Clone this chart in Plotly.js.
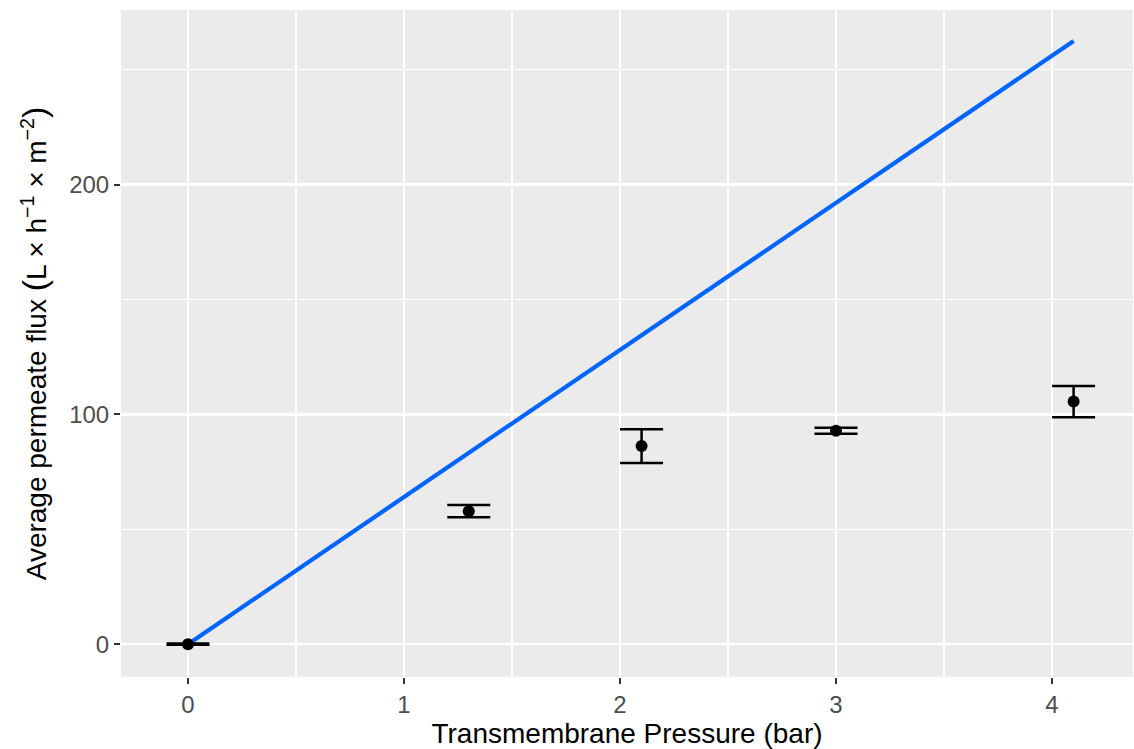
<!DOCTYPE html>
<html>
<head>
<meta charset="utf-8">
<script src="https://cdn.plot.ly/plotly-3.0.1.min.js"></script>
<style>html,body{margin:0;padding:0;background:#fff;}#chart{width:1134px;height:749px;}</style>
</head>
<body>
<div id="chart"></div>
<script>
// Data
const pressure = [0, 1.3, 2.1, 3.0, 4.1];
const flux = [0, 57.8, 86.2, 92.9, 105.6];
const fluxErrUp = [0.3, 2.8, 7.3, 1.3, 6.7];
const fluxErrDown = [0.3, 2.6, 7.4, 1.3, 6.9];
const fitX = [0, 4.1];
const fitY = [0, 262.5];
const xTicks = [0, 1, 2, 3, 4];
const yTicks = [0, 100, 200];

const data = [
  {
    x: fitX, y: fitY, type: 'scatter', mode: 'lines',
    line: {color: '#0064ff', width: 4.2},
    hoverinfo: 'skip', showlegend: false
  },
  {
    x: pressure, y: flux, type: 'scatter', mode: 'markers',
    marker: {color: '#000000', size: 12},
    error_y: {type: 'data', symmetric: false, array: fluxErrUp, arrayminus: fluxErrDown,
      color: '#000000', thickness: 2.5, width: 21.5},
    showlegend: false
  }
];

const layout = {
  width: 1134, height: 749,
  margin: {l: 121, r: 1, t: 10, b: 72},
  paper_bgcolor: '#ffffff',
  plot_bgcolor: '#ebebeb',
  font: {family: '"Liberation Sans", Arial, sans-serif'},
  showlegend: false,
  xaxis: {
    range: [-0.31, 4.375],
    tickmode: 'array', tickvals: xTicks, ticktext: xTicks.map(String),
    ticks: 'outside', ticklen: 6, tickwidth: 2, tickcolor: '#333333',
    tickfont: {size: 24, color: '#4d4d4d'},
    showgrid: true, gridcolor: '#ffffff', gridwidth: 2.4,
    minor: {dtick: 0.5, tick0: 0, showgrid: true, gridcolor: '#ffffff', gridwidth: 1.2, ticks: ''},
    zeroline: false, showline: false,
    title: {text: 'Transmembrane Pressure (bar)', font: {size: 28, color: '#000000'}, standoff: 6}
  },
  yaxis: {
    range: [-14.3, 276],
    tickmode: 'array', tickvals: yTicks, ticktext: yTicks.map(String),
    ticks: 'outside', ticklen: 6, tickwidth: 2, tickcolor: '#333333',
    tickfont: {size: 24, color: '#4d4d4d'},
    showgrid: true, gridcolor: '#ffffff', gridwidth: 2.4,
    minor: {dtick: 50, tick0: 0, showgrid: true, gridcolor: '#ffffff', gridwidth: 1.2, ticks: ''},
    zeroline: false, showline: false,
    title: {text: 'Average permeate flux <span style="font-size:34px">(</span>L × h<sup>−1</sup> × m<sup>−2</sup><span style="font-size:34px">)</span>', font: {size: 28, color: '#000000'}, standoff: 14}
  }
};

Plotly.newPlot('chart', data, layout, {staticPlot: true, displayModeBar: false});
</script>
</body>
</html>
